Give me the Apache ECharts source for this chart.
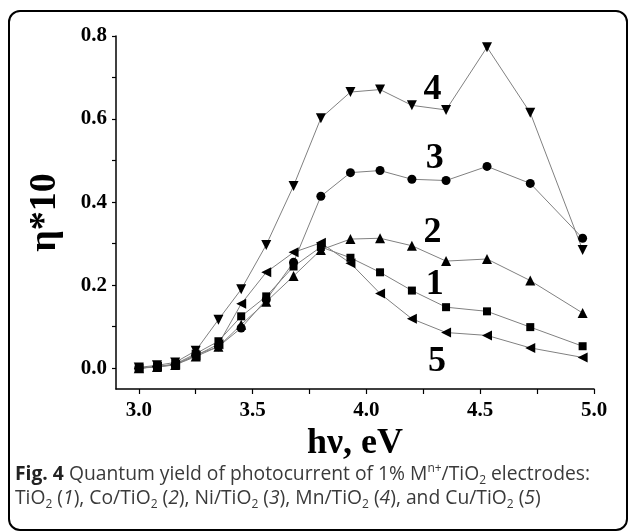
<!DOCTYPE html>
<html>
<head>
<meta charset="utf-8">
<script src="https://cdn.jsdelivr.net/npm/echarts@6/dist/echarts.min.js"></script>
<style>
  html, body { margin: 0; padding: 0; background: #fff; }
  #fig { width: 629px; height: 532px; }
</style>
</head>
<body>
<div id="fig"></div>
<script>
// photon energy, eV
var photonEnergy = [3.0, 3.08, 3.16, 3.25, 3.35, 3.45, 3.56, 3.68, 3.80, 3.93, 4.06, 4.20, 4.35, 4.53, 4.72, 4.95];

// quantum yield * 10
var tio2   = [0.000, 0.004, 0.010, 0.035, 0.065, 0.125, 0.173, 0.245, 0.292, 0.266, 0.231, 0.187, 0.147, 0.137, 0.099, 0.053];
var coTio2 = [0.000, 0.003, 0.008, 0.028, 0.052, 0.105, 0.160, 0.222, 0.285, 0.311, 0.313, 0.295, 0.258, 0.263, 0.211, 0.133];
var niTio2 = [0.000, 0.004, 0.008, 0.032, 0.052, 0.097, 0.165, 0.255, 0.414, 0.471, 0.476, 0.455, 0.452, 0.486, 0.445, 0.313];
var mnTio2 = [0.002, 0.007, 0.014, 0.042, 0.117, 0.190, 0.297, 0.439, 0.602, 0.665, 0.671, 0.633, 0.622, 0.773, 0.615, 0.285];
var cuTio2 = [0.000, 0.004, 0.009, 0.030, 0.058, 0.155, 0.231, 0.279, 0.302, 0.253, 0.180, 0.119, 0.086, 0.079, 0.049, 0.026];

// axis ticks
var xLabelValues = [3.0, 3.5, 4.0, 4.5, 5.0];
var xTickValues = [3.0, 3.25, 3.5, 3.75, 4.0, 4.25, 4.5, 4.75, 5.0];
var yLabelValues = [0.0, 0.2, 0.4, 0.6, 0.8];
var yTickValues = [0.0, 0.1, 0.2, 0.3, 0.4, 0.5, 0.6, 0.7, 0.8];

// curve numbers, placed in data space
var curveNames = ['1', '2', '3', '4', '5'];
var curveNameX = [4.30, 4.29, 4.30, 4.29, 4.31];
var curveNameY = [0.200, 0.327, 0.505, 0.671, 0.015];

var serif = '"Liberation Serif", "Times New Roman", serif';
var sans = '"Open Sans", "Noto Sans", sans-serif';
var chart = echarts.init(document.getElementById('fig'));

function pairs(ys) {
    return photonEnergy.map(function (x, i) { return [x, ys[i]]; });
}

function curve(name, ys, symbol, size, rotate) {
    return {
        name: name,
        type: 'line',
        data: pairs(ys),
        symbol: symbol,
        symbolSize: size,
        symbolRotate: rotate || 0,
        showAllSymbol: true,
        lineStyle: { color: '#808080', width: 1 },
        itemStyle: { color: '#000', borderWidth: 0 },
        z: 3
    };
}

chart.setOption({
    animation: false,
    grid: { left: 116, right: 35, top: 36, bottom: 143 },
    xAxis: {
        type: 'value',
        min: 2.9,
        max: 5.0,
        name: 'hν, eV',
        nameLocation: 'middle',
        nameGap: 33,
        nameTextStyle: { fontFamily: serif, fontWeight: 'bold', fontSize: 36, color: '#000' },
        axisLine: { onZero: false, lineStyle: { color: '#000', width: 1.5 } },
        axisTick: { customValues: xTickValues, length: 5, lineStyle: { color: '#000', width: 1.2 } },
        axisLabel: {
            customValues: xLabelValues,
            margin: 11,
            fontFamily: serif, fontWeight: 'bold', fontSize: 21, color: '#000',
            formatter: function (v) { return v.toFixed(1); }
        },
        splitLine: { show: false }
    },
    yAxis: {
        type: 'value',
        min: -0.05,
        max: 0.8,
        name: 'η*10',
        nameLocation: 'middle',
        nameRotate: 90,
        nameGap: 52,
        nameTextStyle: { fontFamily: serif, fontWeight: 'bold', fontSize: 38, color: '#000' },
        axisLine: { lineStyle: { color: '#000', width: 1.5 } },
        axisTick: { customValues: yTickValues, length: 4, lineStyle: { color: '#000', width: 1.2 } },
        axisLabel: {
            customValues: yLabelValues,
            margin: 9,
            fontFamily: serif, fontWeight: 'bold', fontSize: 21, color: '#000',
            formatter: function (v) { return v.toFixed(1); }
        },
        splitLine: { show: false }
    },
    series: [
        curve('TiO2', tio2, 'rect', 8),
        curve('Co/TiO2', coTio2, 'triangle', 10),
        curve('Ni/TiO2', niTio2, 'circle', 9),
        curve('Mn/TiO2', mnTio2, 'triangle', 10, 180),
        curve('Cu/TiO2', cuTio2, 'triangle', 10, 90),
        {
            name: 'curve numbers',
            type: 'scatter',
            symbolSize: 0,
            silent: true,
            itemStyle: { opacity: 1 },
            data: curveNames.map(function (t, i) { return { value: [curveNameX[i], curveNameY[i]], name: t }; }),
            label: {
                show: true,
                position: 'inside',
                formatter: '{b}',
                opacity: 1,
                fontFamily: serif, fontWeight: 'bold', fontSize: 36, color: '#000'
            }
        }
    ],
    graphic: [
        {
            type: 'rect',
            shape: { x: 9, y: 11, width: 618, height: 519, r: 11 },
            style: { fill: 'none', stroke: '#000', lineWidth: 2 },
            silent: true
        },
        {
            type: 'text',
            left: 15,
            top: 463,
            style: {
                text: '{b|Fig. 4} Quantum yield of photocurrent of 1% M{sup|n+}/TiO{sub|2} electrodes:\n' +
                      'TiO{sub|2} ({i|1}), Co/TiO{sub|2} ({i|2}), Ni/TiO{sub|2} ({i|3}), Mn/TiO{sub|2} ({i|4}), and Cu/TiO{sub|2} ({i|5})',
                font: '19.3px ' + sans,
                fill: '#3a3a3a',
                lineHeight: 24,
                rich: {
                    b: { fontWeight: 'bold', fontSize: 19.3, fontFamily: sans, fill: '#222', lineHeight: 24 },
                    i: { fontStyle: 'italic', fontSize: 19.3, fontFamily: sans, fill: '#3a3a3a', lineHeight: 24 },
                    sup: { fontSize: 12, fontFamily: sans, fill: '#3a3a3a', verticalAlign: 'top', lineHeight: 24, padding: [0, 0, 10, 0] },
                    sub: { fontSize: 12, fontFamily: sans, fill: '#3a3a3a', verticalAlign: 'bottom', lineHeight: 24, padding: [8, 0, 0, 0] }
                }
            }
        }
    ]
});
</script>
</body>
</html>
